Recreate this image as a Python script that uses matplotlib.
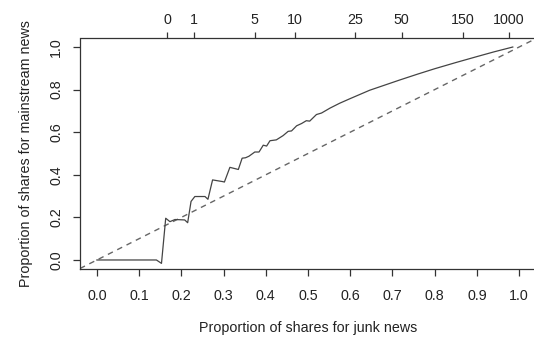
import matplotlib.pyplot as plt

# curve (junk share, mainstream share)
junk = [0.0, 0.141, 0.153, 0.163, 0.173, 0.185, 0.208, 0.215, 0.223, 0.232,
        0.256, 0.263, 0.274, 0.298, 0.302, 0.315, 0.335, 0.344, 0.352, 0.36,
        0.374, 0.384, 0.394, 0.402, 0.41, 0.425, 0.441, 0.453, 0.461, 0.473,
        0.485, 0.496, 0.504, 0.52, 0.532, 0.552, 0.575, 0.599, 0.646, 0.717,
        0.76, 0.8, 0.85, 0.9, 0.94, 0.985]
mainstream = [0.0, 0.0, -0.016, 0.196, 0.18, 0.19, 0.188, 0.175, 0.275, 0.298,
              0.298, 0.285, 0.376, 0.368, 0.366, 0.435, 0.425, 0.478, 0.48, 0.487,
              0.507, 0.507, 0.539, 0.535, 0.56, 0.564, 0.584, 0.604, 0.606, 0.63,
              0.641, 0.654, 0.652, 0.683, 0.69, 0.713, 0.736, 0.757, 0.797, 0.845,
              0.873, 0.898, 0.927, 0.955, 0.977, 1.0]

# top axis: thresholds and where they fall on the x scale
top_labels = ['0', '1', '5', '10', '25', '50', '150', '1000']
top_pos = [0.166, 0.230, 0.374, 0.469, 0.611, 0.722, 0.867, 0.976]

x_ticks = [0.0, 0.1, 0.2, 0.3, 0.4, 0.5, 0.6, 0.7, 0.8, 0.9, 1.0]
y_ticks = [0.0, 0.2, 0.4, 0.6, 0.8, 1.0]

plt.rcParams['font.family'] = ['Liberation Sans', 'DejaVu Sans']
fs = 10.3
ink = '#333333'

fig = plt.figure(figsize=(5.34, 3.41), dpi=100)
ax = fig.add_axes([80 / 534, 1 - 268.5 / 341, 456 / 534, 230 / 341])

ax.plot([-0.04, 1.04], [-0.04, 1.04], color='#666666', lw=1.0, ls=(0, (4, 3.5)))
ax.plot(junk, mainstream, color='#444444', lw=0.9)

ax.set_xlim(-0.04, 1.04)
ax.set_ylim(-0.04, 1.04)
ax.set_xticks(x_ticks, labels=['%.1f' % v for v in x_ticks])
ax.set_yticks(y_ticks, labels=['%.1f' % v for v in y_ticks])
ax.tick_params(axis='x', length=5, width=0.9, color=ink, pad=10,
               labelsize=fs, labelcolor='#222222')
ax.tick_params(axis='y', length=5, width=0.9, color=ink, pad=7,
               labelsize=fs, labelcolor='#222222', labelrotation=90)
for lab in ax.get_yticklabels():
    lab.set_verticalalignment('center')

for s in ax.spines.values():
    s.set_color(ink)
    s.set_linewidth(0.9)
ax.spines['top'].set_visible(False)

top = ax.secondary_xaxis('top')
top.set_xticks(top_pos, labels=top_labels)
top.tick_params(length=4.5, width=0.9, color=ink, pad=4,
                labelsize=fs, labelcolor='#222222')
top.spines['top'].set_color(ink)
top.spines['top'].set_linewidth(0.9)

ax.set_xlabel('Proportion of shares for junk news', fontsize=fs,
              color='#222222', labelpad=13)
ax.set_ylabel('Proportion of shares for mainstream news', fontsize=fs,
              color='#222222', labelpad=12)

fig.savefig('out.png', dpi=100)
